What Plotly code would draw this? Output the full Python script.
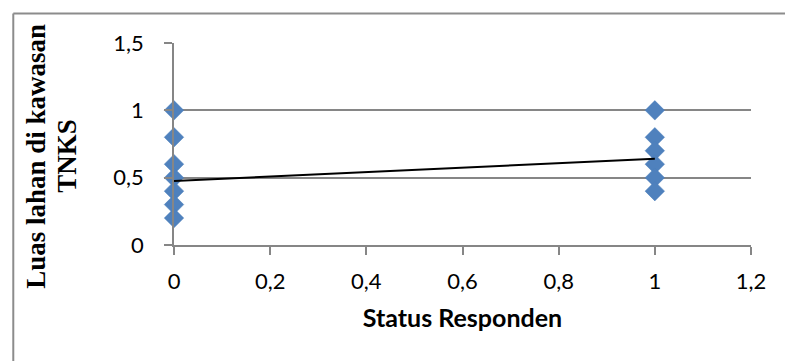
import plotly.graph_objects as go

# Respondent status (0 / 1) against land area inside the TNKS park
status_0 = [0, 0, 0, 0, 0, 0, 0]
luas_0 = [1.0, 0.8, 0.6, 0.5, 0.4, 0.3, 0.2]
status_1 = [1, 1, 1, 1, 1, 1]
luas_1 = [1.0, 0.8, 0.7, 0.6, 0.5, 0.4]

# Linear trend line endpoints
trend_x = [0, 1]
trend_y = [0.475, 0.64]

x_ticks = [0, 0.2, 0.4, 0.6, 0.8, 1, 1.2]
x_tick_text = ["0", "0,2", "0,4", "0,6", "0,8", "1", "1,2"]
y_ticks = [0, 0.5, 1, 1.5]
y_tick_text = ["0", "0,5", "1", "1,5"]
y_title_lines = ["Luas lahan di kawasan", "TNKS"]

W, H = 785, 361
L, R, T, B = 173.5, 33.5, 43, 116
pw, ph = W - L - R, H - T - B

fig = go.Figure()
fig.add_trace(go.Scatter(
    x=status_0 + status_1, y=luas_0 + luas_1, mode="markers",
    marker=dict(symbol="diamond", size=15, color="#4F81BD",
                line=dict(width=0.5, color="#4A7EBB")),
    cliponaxis=False, showlegend=False,
))
fig.add_trace(go.Scatter(
    x=trend_x, y=trend_y, mode="lines",
    line=dict(color="black", width=2), cliponaxis=False, showlegend=False,
))

# Convert page pixels to paper coordinates
def px_x(p):
    return (p - L) / pw

def px_y(p):
    return (H - B - p) / ph

# Chart frame (left and top edges)
frame = dict(color="#8C8C8C", width=2)
fig.add_shape(type="line", xref="paper", yref="paper",
              x0=px_x(12.5), x1=px_x(W + 5), y0=px_y(13.5), y1=px_y(13.5), line=frame)
fig.add_shape(type="line", xref="paper", yref="paper",
              x0=px_x(12.5), x1=px_x(12.5), y0=px_y(13.5), y1=px_y(H + 5), line=frame)

# Vertical y-axis title, two lines
title_font = dict(family="Liberation Serif, Times New Roman, serif", size=27, color="black")
for txt, cx in zip(y_title_lines, [35, 66]):
    fig.add_annotation(
        text=f"<b>{txt}</b>", textangle=-90, showarrow=False,
        xref="paper", yref="paper", x=px_x(cx), y=px_y(156),
        xanchor="center", yanchor="middle", font=title_font,
    )

tick_font = dict(family="Lato, Calibri, sans-serif", size=22, color="black")
fig.update_xaxes(
    range=[0, 1.2], tickvals=x_ticks, ticktext=x_tick_text,
    showgrid=False, zeroline=False, showline=True, linecolor="#868686", linewidth=1.5,
    ticks="outside", ticklen=8, tickwidth=1.5, tickcolor="#868686",
    tickfont=tick_font, ticklabelstandoff=8,
    title=dict(text="<b>Status Responden</b>", standoff=16,
               font=dict(family="Lato, Calibri, sans-serif", size=25, color="black")),
)
fig.update_yaxes(
    range=[0, 1.5], tickvals=y_ticks, ticktext=y_tick_text,
    showgrid=True, gridcolor="#868686", gridwidth=1.5,
    zeroline=False, showline=True, linecolor="#868686", linewidth=1.5,
    ticks="outside", ticklen=8, tickwidth=1.5, tickcolor="#868686",
    tickfont=tick_font, ticklabelstandoff=16,
)
fig.update_layout(
    width=W, height=H, margin=dict(l=L, r=R, t=T, b=B),
    paper_bgcolor="white", plot_bgcolor="white",
)
fig.write_html("out.html")
